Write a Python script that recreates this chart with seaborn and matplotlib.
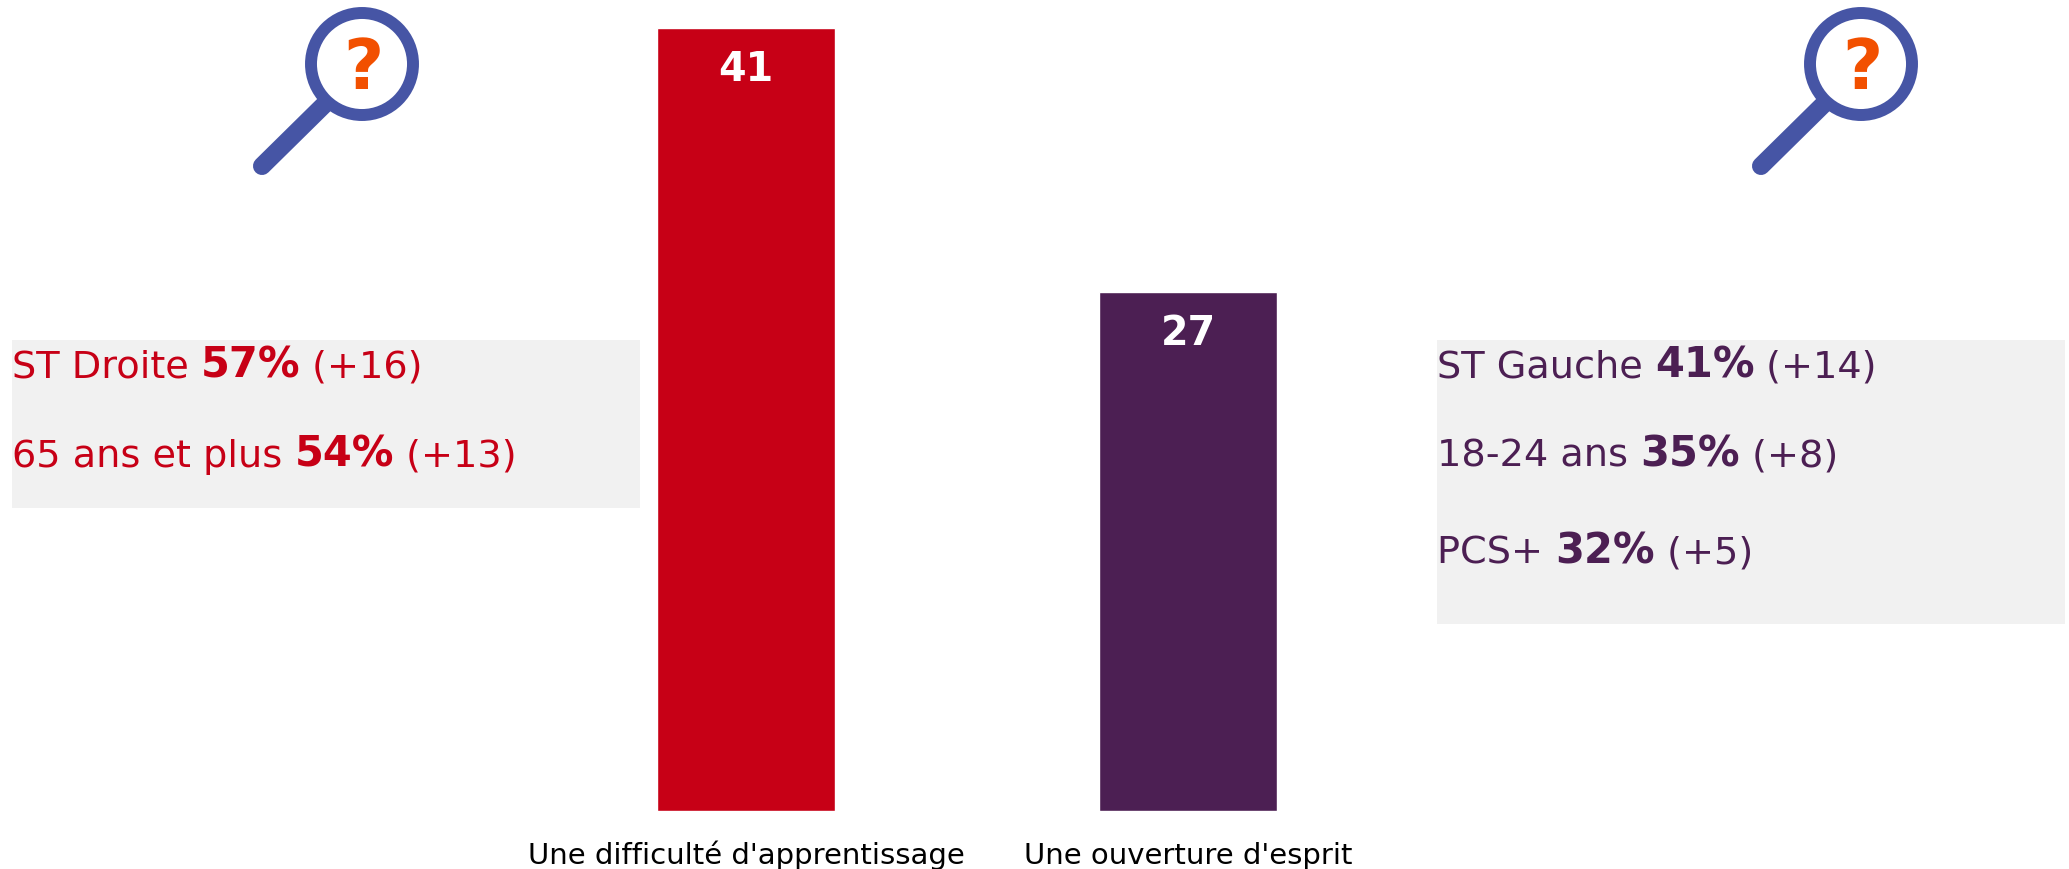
import matplotlib
matplotlib.use("Agg")
import matplotlib.pyplot as plt
import pandas as pd
import seaborn as sns
from matplotlib.patches import Circle, Rectangle

W, H = 2069, 870

# donnees
categories = ["Une difficulté d'apprentissage", "Une ouverture d'esprit"]
valeurs = [41, 27.2]
etiquettes = ["41", "27"]
couleurs = ["#c70016", "#4c1f53"]

lignes_gauche = [("ST Droite ", "57%", " (+16)"), ("65 ans et plus ", "54%", " (+13)")]
lignes_droite = [("ST Gauche ", "41%", " (+14)"), ("18-24 ans ", "35%", " (+8)"), ("PCS+ ", "32%", " (+5)")]

sns.set_theme(style="white")
plt.rcParams["font.family"] = ["DejaVu Sans"]

fig = plt.figure(figsize=(W / 100, H / 100), dpi=100, facecolor="white")

# ! barres ---------------------------------------------------------------------
ax = fig.add_axes([0, 1 - 812 / H, 1, (812 - 29) / H])
df = pd.DataFrame({"cat": categories, "val": valeurs})
sns.barplot(data=df, x="cat", y="val", hue="cat", palette=couleurs, legend=False,
            width=0.403, saturation=1, ax=ax)
ax.set_xlim(-746 / 442, (W - 746) / 442)
ax.set_ylim(0, 41)
ax.set_xlabel("")
ax.set_ylabel("")
ax.set_yticks([])
ax.tick_params(axis="x", length=0, pad=37.4, labelsize=21, labelcolor="black")
for lab in ax.get_xticklabels():
    lab.set_verticalalignment("baseline")
for s in ax.spines.values():
    s.set_visible(False)
ax.patch.set_alpha(0)

for i, v in enumerate(valeurs):
    ax.annotate(etiquettes[i], (i, v), xytext=(0, -52), textcoords="offset pixels", ha="center", va="baseline",
                color="white", fontsize=28.5, fontweight="bold")

# ! calque en pixels pour les encadres et les loupes ---------------------------
pix = fig.add_axes([0, 0, 1, 1], zorder=-1)
pix.set_xlim(0, W)
pix.set_ylim(H, 0)
pix.axis("off")
top = fig.add_axes([0, 0, 1, 1], zorder=5)
top.set_xlim(0, W)
top.set_ylim(H, 0)
top.axis("off")


def encadre(x0, x1, y0, y1, lignes, couleur, y_lignes):
    pix.add_patch(Rectangle((x0, y0), x1 - x0, y1 - y0, color="#f1f1f1", lw=0))
    rend = fig.canvas.get_renderer()
    for (a, b, c), y in zip(lignes, y_lignes):
        x = x0
        for txt, poids, taille in ((a, "normal", 27.5), (b, "bold", 30), (c, "normal", 27.5)):
            t = top.text(x, y, txt.replace(" ", "\u00a0"), color=couleur, fontsize=taille,
                         fontweight=poids, va="baseline", ha="left")
            x += t.get_window_extent(rend).width


def loupe(cx, cy):
    blue = "#4655a5"
    top.plot([cx - 32, cx - 100], [cy + 35, cy + 102], color=blue, lw=13, solid_capstyle="round", zorder=1)
    top.add_patch(Circle((cx, cy), 51, fc="white", ec=blue, lw=8.6, zorder=2))
    top.text(cx + 1, cy + 24, "?", color="#f25000", fontsize=50, fontweight="bold",
             ha="center", va="baseline", zorder=3)


encadre(12, 640, 341, 509, lignes_gauche, couleurs[0], [378, 467])
encadre(1437, 2065, 341, 625, lignes_droite, couleurs[1], [378, 467, 564])
loupe(362, 65)
loupe(1861, 65)

fig.savefig("out.png", dpi=100)
